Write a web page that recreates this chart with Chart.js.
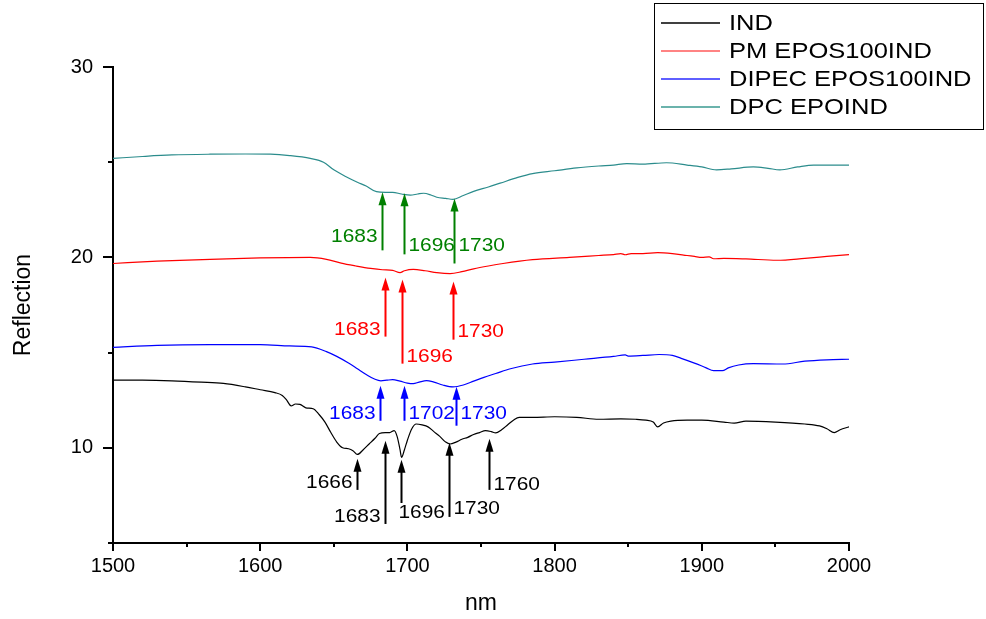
<!DOCTYPE html>
<html>
<head>
<meta charset="utf-8">
<script src="https://cdn.jsdelivr.net/npm/chart.js@4.4.1/dist/chart.umd.min.js"></script>
<style>
html,body{margin:0;padding:0;background:#fff;}
#c{display:block;}
</style>
</head>
<body>
<canvas id="c" width="986" height="619"></canvas>
<script>
// ---------- DATA ----------
const seriesNames = ['IND', 'PM EPOS100IND', 'DIPEC EPOS100IND', 'DPC EPOIND'];

const indX = [1500,1520,1540,1560,1575,1590,1600,1610,1615,1618,1621,1624,1627,1631,1636,1640,1644,1648,1652,1656,1660,1663,1666,1670,1674,1678,1681,1685,1688,1691,1693,1695,1696,1698,1700,1703,1706,1710,1714,1718,1722,1726,1729,1733,1737,1741,1745,1749,1753,1757,1760,1764,1768,1772,1776,1785,1800,1815,1830,1845,1855,1862,1867,1870,1874,1879,1890,1900,1915,1922,1930,1950,1970,1980,1985,1990,1994,2000];
const indY = [13.55,13.55,13.52,13.45,13.38,13.2,13.05,12.9,12.75,12.5,12.2,12.3,12.28,12.1,12.05,11.75,11.35,10.8,10.3,10.0,9.95,9.85,9.65,9.9,10.2,10.5,10.75,10.8,10.8,10.9,10.6,9.9,9.5,9.9,10.4,11.0,11.25,11.2,11.1,10.85,10.6,10.3,10.2,10.3,10.45,10.55,10.7,10.8,10.9,10.85,10.78,10.95,11.2,11.45,11.6,11.6,11.63,11.6,11.5,11.52,11.5,11.45,11.35,11.1,11.3,11.4,11.45,11.45,11.35,11.3,11.4,11.35,11.25,11.15,11.0,10.8,10.95,11.1];

const pmX = [1500,1530,1566,1600,1634,1645,1655,1665,1675,1683,1690,1695,1698,1704,1712,1720,1729,1737,1745,1755,1765,1785,1810,1830,1840,1845,1848,1852,1860,1870,1880,1890,1895,1900,1905,1908,1915,1930,1951,1970,1985,2000];
const pmY = [19.68,19.8,19.9,19.97,20.0,19.9,19.7,19.55,19.42,19.35,19.32,19.2,19.3,19.37,19.3,19.2,19.15,19.25,19.4,19.55,19.68,19.88,20.0,20.1,20.15,20.2,20.14,20.2,20.2,20.25,20.2,20.1,20.05,20.0,20.03,19.93,19.95,19.92,19.85,19.95,20.05,20.15];

const dipecX = [1500,1530,1566,1600,1620,1635,1645,1652,1660,1666,1672,1678,1682,1686,1690,1695,1700,1704,1708,1713,1718,1724,1731,1738,1745,1752,1760,1770,1785,1800,1820,1840,1848,1850,1860,1871,1880,1886,1895,1903,1908,1914,1918,1925,1935,1955,1970,1985,2000];
const dipecY = [15.27,15.38,15.42,15.42,15.35,15.3,15.05,14.8,14.45,14.15,13.85,13.6,13.52,13.55,13.58,13.5,13.4,13.37,13.45,13.53,13.45,13.3,13.2,13.3,13.5,13.7,13.9,14.15,14.4,14.5,14.65,14.8,14.88,14.82,14.85,14.9,14.85,14.7,14.45,14.2,14.05,14.05,14.2,14.35,14.42,14.4,14.55,14.62,14.65];

const dpcX = [1500,1520,1540,1566,1590,1607,1620,1634,1643,1650,1658,1666,1672,1679,1685,1690,1696,1702,1707,1711,1716,1720,1726,1731,1738,1745,1755,1763,1775,1785,1800,1815,1830,1840,1849,1860,1876,1890,1900,1910,1920,1935,1945,1953,1965,1976,2000];
const dpcY = [25.2,25.3,25.38,25.42,25.43,25.42,25.35,25.2,25.0,24.6,24.25,23.95,23.75,23.45,23.42,23.42,23.33,23.27,23.33,23.37,23.28,23.16,23.1,23.05,23.25,23.47,23.7,23.9,24.2,24.4,24.55,24.7,24.8,24.85,24.92,24.9,24.97,24.85,24.75,24.6,24.65,24.75,24.68,24.6,24.75,24.85,24.85];

// axis ticks
const xTickLabels = [1500, 1600, 1700, 1800, 1900, 2000];
const yTickLabels = [10, 20, 30];

// peak annotations: arrow x (nm), arrow tip value, arrow tail value, label, label centre value, label side
const dpcArrowX = [1682.7, 1697.7, 1731.7];
const dpcArrowTip = [23.42, 23.37, 23.1];
const dpcArrowTail = [20.37, 20.16, 19.68];
const dpcLabels = ['1683', '1696', '1730'];
const dpcLabelY = [21.1, 20.63, 20.63];
const dpcLabelSide = ['left', 'right', 'right'];

const pmArrowX = [1684.8, 1696.3, 1731.0];
const pmArrowTip = [18.95, 18.84, 18.74];
const pmArrowTail = [15.84, 14.42, 15.68];
const pmLabels = ['1683', '1696', '1730'];
const pmLabelY = [16.2, 14.8, 16.1];
const pmLabelSide = ['left', 'right', 'right'];

const dipecArrowX = [1681.4, 1697.7, 1733.0];
const dipecArrowTip = [13.26, 13.26, 13.2];
const dipecArrowTail = [11.42, 11.42, 11.16];
const dipecLabels = ['1683', '1702', '1730'];
const dipecLabelY = [11.8, 11.8, 11.8];
const dipecLabelSide = ['left', 'right', 'right'];

const indArrowX = [1665.8, 1684.8, 1695.6, 1728.3, 1755.4];
const indArrowTip = [9.42, 10.37, 9.37, 10.26, 10.47];
const indArrowTail = [7.79, 6.0, 7.1, 6.37, 7.79];
const indLabels = ['1666', '1683', '1696', '1730', '1760'];
const indLabelY = [8.16, 6.37, 6.58, 6.79, 8.05];
const indLabelSide = ['left', 'left', 'below', 'right', 'right'];

// ---------- STYLES ----------
const colors = ['#000000', '#ff0000', '#0000ff', '#2b8c8c'];
const legendColors = ['#000000', '#ff5a5a', '#2a2aff', '#3a9a90'];
const FONT = '"Liberation Sans", Arial, sans-serif';
const STRETCH = 1.1;

function toPts(xs, ys) { return xs.map((x, i) => ({x: x, y: ys[i]})); }

const annotationGroups = [
  {color: '#008000', x: dpcArrowX, tip: dpcArrowTip, tail: dpcArrowTail, labels: dpcLabels, ly: dpcLabelY, side: dpcLabelSide},
  {color: '#ff0000', x: pmArrowX, tip: pmArrowTip, tail: pmArrowTail, labels: pmLabels, ly: pmLabelY, side: pmLabelSide},
  {color: '#0000ff', x: dipecArrowX, tip: dipecArrowTip, tail: dipecArrowTail, labels: dipecLabels, ly: dipecLabelY, side: dipecLabelSide},
  {color: '#000000', x: indArrowX, tip: indArrowTip, tail: indArrowTail, labels: indLabels, ly: indLabelY, side: indLabelSide}
];

function stretchText(ctx, text, x, y, align, sx) {
  ctx.save();
  ctx.translate(x, y);
  ctx.scale(sx, 1);
  ctx.textAlign = align;
  ctx.fillText(text, 0, 0);
  ctx.restore();
}

const annotationPlugin = {
  id: 'peakArrows',
  afterDatasetsDraw(chart) {
    const ctx = chart.ctx;
    const xs = chart.scales.x, ys = chart.scales.y;
    ctx.save();
    ctx.font = '19px ' + FONT;
    ctx.textBaseline = 'middle';
    annotationGroups.forEach(g => {
      ctx.strokeStyle = g.color;
      ctx.fillStyle = g.color;
      g.x.forEach((xv, i) => {
        const px = Math.round(xs.getPixelForValue(xv)) + 0.5;
        const tipY = ys.getPixelForValue(g.tip[i]);
        const tailY = ys.getPixelForValue(g.tail[i]);
        const headLen = 13, headW = 4;
        ctx.lineWidth = 2;
        ctx.beginPath();
        ctx.moveTo(px, tailY);
        ctx.lineTo(px, tipY + headLen - 1);
        ctx.stroke();
        ctx.beginPath();
        ctx.moveTo(px, tipY);
        ctx.lineTo(px - headW, tipY + headLen);
        ctx.lineTo(px + headW, tipY + headLen);
        ctx.closePath();
        ctx.fill();
        const ly = ys.getPixelForValue(g.ly[i]);
        if (g.side[i] === 'left') {
          stretchText(ctx, g.labels[i], px - 5, ly, 'right', STRETCH);
        } else if (g.side[i] === 'right') {
          stretchText(ctx, g.labels[i], px + 4, ly, 'left', STRETCH);
        } else {
          stretchText(ctx, g.labels[i], px - 3, ly, 'left', STRETCH);
        }
      });
    });
    ctx.restore();
  }
};

const tickPlugin = {
  id: 'tickMarks',
  afterDraw(chart) {
    const ctx = chart.ctx;
    const xs = chart.scales.x, ys = chart.scales.y;
    const area = chart.chartArea;
    ctx.save();
    ctx.strokeStyle = '#000';
    ctx.lineWidth = 2;
    ys.ticks.forEach(t => {
      const py = Math.round(ys.getPixelForValue(t.value));
      const len = (t.value % 10 === 0) ? 10 : 5;
      ctx.beginPath();
      ctx.moveTo(area.left, py);
      ctx.lineTo(area.left - len, py);
      ctx.stroke();
    });
    xs.ticks.forEach(t => {
      const px = Math.round(xs.getPixelForValue(t.value));
      const len = (t.value % 100 === 0) ? 8 : 4;
      ctx.beginPath();
      ctx.moveTo(px, area.bottom);
      ctx.lineTo(px, area.bottom + len);
      ctx.stroke();
    });
    ctx.restore();
  }
};

const legendPlugin = {
  id: 'boxLegend',
  afterDraw(chart) {
    const ctx = chart.ctx;
    const bx = 654, by = 3, bw = 329, bh = 126;
    ctx.save();
    ctx.strokeStyle = '#000';
    ctx.lineWidth = 1;
    ctx.strokeRect(bx + 0.5, by + 0.5, bw, bh);
    ctx.font = '22px ' + FONT;
    ctx.textBaseline = 'middle';
    chart.data.datasets.forEach((ds, i) => {
      const cy = 23 + i * 28;
      ctx.strokeStyle = legendColors[i];
      ctx.lineWidth = 1.5;
      ctx.beginPath();
      ctx.moveTo(661, cy);
      ctx.lineTo(720, cy);
      ctx.stroke();
      ctx.fillStyle = '#000';
      stretchText(ctx, ds.label, 729, cy + 1, 'left', 1.16);
    });
    ctx.restore();
  }
};

const datasets = [
  {label: seriesNames[0], data: toPts(indX, indY)},
  {label: seriesNames[1], data: toPts(pmX, pmY)},
  {label: seriesNames[2], data: toPts(dipecX, dipecY)},
  {label: seriesNames[3], data: toPts(dpcX, dpcY)}
].map((d, i) => Object.assign(d, {
  borderColor: colors[i],
  backgroundColor: colors[i],
  borderWidth: 1.2,
  pointRadius: 0,
  cubicInterpolationMode: 'monotone',
  fill: false
}));

new Chart(document.getElementById('c'), {
  type: 'line',
  data: {datasets: datasets},
  plugins: [annotationPlugin, tickPlugin, legendPlugin],
  options: {
    responsive: false,
    animation: false,
    devicePixelRatio: 1,
    layout: {padding: {left: 0, top: 67, right: 137, bottom: 0}},
    plugins: {legend: {display: false}, tooltip: {enabled: false}},
    scales: {
      x: {
        type: 'linear',
        min: 1500, max: 2000,
        afterFit(s) { s.height = 76; },
        ticks: {
          stepSize: 50,
          autoSkip: false,
          maxRotation: 0,
          padding: 11,
          color: '#000',
          font: {family: FONT, size: 20},
          callback: v => xTickLabels.includes(v) ? String(v) : ''
        },
        grid: {display: true, drawOnChartArea: false, drawTicks: false},
        border: {display: true, color: '#000', width: 2},
        title: {display: true, text: 'nm', color: '#000', font: {family: FONT, size: 23}, padding: {top: 0, bottom: 2}}
      },
      y: {
        type: 'linear',
        min: 5, max: 30,
        afterFit(s) { s.width = 113; },
        ticks: {
          stepSize: 5,
          autoSkip: false,
          padding: 20,
          color: '#000',
          font: {family: FONT, size: 20},
          callback: v => yTickLabels.includes(v) ? String(v) : ''
        },
        grid: {display: true, drawOnChartArea: false, drawTicks: false},
        border: {display: true, color: '#000', width: 2},
        title: {display: true, text: 'Reflection', color: '#000', font: {family: FONT, size: 23}, padding: {top: 10, bottom: 0}}
      }
    }
  }
});
</script>
</body>
</html>
